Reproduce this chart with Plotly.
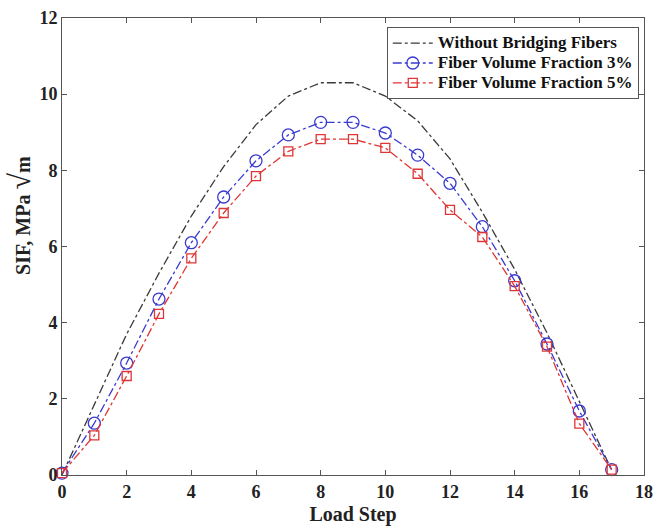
import plotly.graph_objects as go

load_step = list(range(18))
sif_no_fiber = [0.0, 1.85, 3.7, 5.3, 6.8, 8.1, 9.2, 9.95, 10.3, 10.3, 9.95, 9.3, 8.3, 6.9, 5.4, 3.73, 1.92, 0.13]
sif_vf3 = [0.05, 1.36, 2.94, 4.62, 6.10, 7.30, 8.25, 8.93, 9.26, 9.26, 8.98, 8.40, 7.66, 6.52, 5.10, 3.44, 1.68, 0.14]
sif_vf5 = [0.05, 1.04, 2.60, 4.23, 5.69, 6.88, 7.85, 8.50, 8.82, 8.82, 8.59, 7.91, 6.96, 6.25, 4.96, 3.37, 1.35, 0.14]
series_names = ["Without Bridging Fibers", "Fiber Volume Fraction 3%", "Fiber Volume Fraction 5%"]

x_ticks = list(range(0, 19, 2))
y_ticks = list(range(0, 13, 2))

font_family = "Liberation Serif"


def legend_label(name):
    return f"<span style='font-size:17px'><b>{name}</b></span>"


fig = go.Figure()
fig.add_trace(go.Scatter(
    x=load_step, y=sif_no_fiber, mode="lines", name=legend_label(series_names[0]),
    line=dict(color="#3a3a3a", width=1.3, dash="dashdot"), cliponaxis=False))
fig.add_trace(go.Scatter(
    x=load_step, y=sif_vf3, mode="lines+markers", name=legend_label(series_names[1]),
    line=dict(color="#3a3ad0", width=1.3, dash="dashdot"),
    marker=dict(symbol="circle-open", size=12, color="#3a3ad0", line=dict(width=1.3)),
    cliponaxis=False))
fig.add_trace(go.Scatter(
    x=load_step, y=sif_vf5, mode="lines+markers", name=legend_label(series_names[2]),
    line=dict(color="#e03535", width=1.3, dash="dashdot"),
    marker=dict(symbol="square-open", size=9, color="#e03535", line=dict(width=1.3)),
    cliponaxis=False))

axis_common = dict(
    showline=True, linecolor="#555555", linewidth=1, mirror="ticks",
    ticks="inside", ticklen=5, tickcolor="#555555", showgrid=False, zeroline=False,
    tickfont=dict(family=font_family, size=18, color="#222222"),
)

fig.update_layout(
    width=661, height=530,
    margin=dict(l=62, r=8, t=14, b=54),
    plot_bgcolor="white", paper_bgcolor="white",
    font=dict(family=font_family, color="#222222"),
    xaxis=dict(range=[0, 18], tickvals=x_ticks, ticktext=[f"<b>{v}</b>" for v in x_ticks],
               title=dict(text="<b>Load Step</b>", font=dict(family=font_family, size=20), standoff=6),
               **axis_common),
    yaxis=dict(range=[0, 12], tickvals=y_ticks, ticktext=[f"<b>{v}</b>" for v in y_ticks],
               **axis_common),
    legend=dict(x=0.558, y=0.98, xanchor="left", yanchor="top",
                bordercolor="#555555", borderwidth=1, bgcolor="white",
                font=dict(family=font_family, size=13, color="#111111"),
                tracegroupgap=0, itemwidth=40),
    showlegend=True,
    annotations=[dict(
        text="<b>SIF, MPa <span style='font-size:30px'>√</span>m</b>",
        xref="paper", yref="paper", x=-0.072, y=0.567,
        xanchor="center", yanchor="middle", textangle=-90, showarrow=False,
        font=dict(family=font_family, size=20, color="#222222"))],
)

fig.write_html("out.html")
